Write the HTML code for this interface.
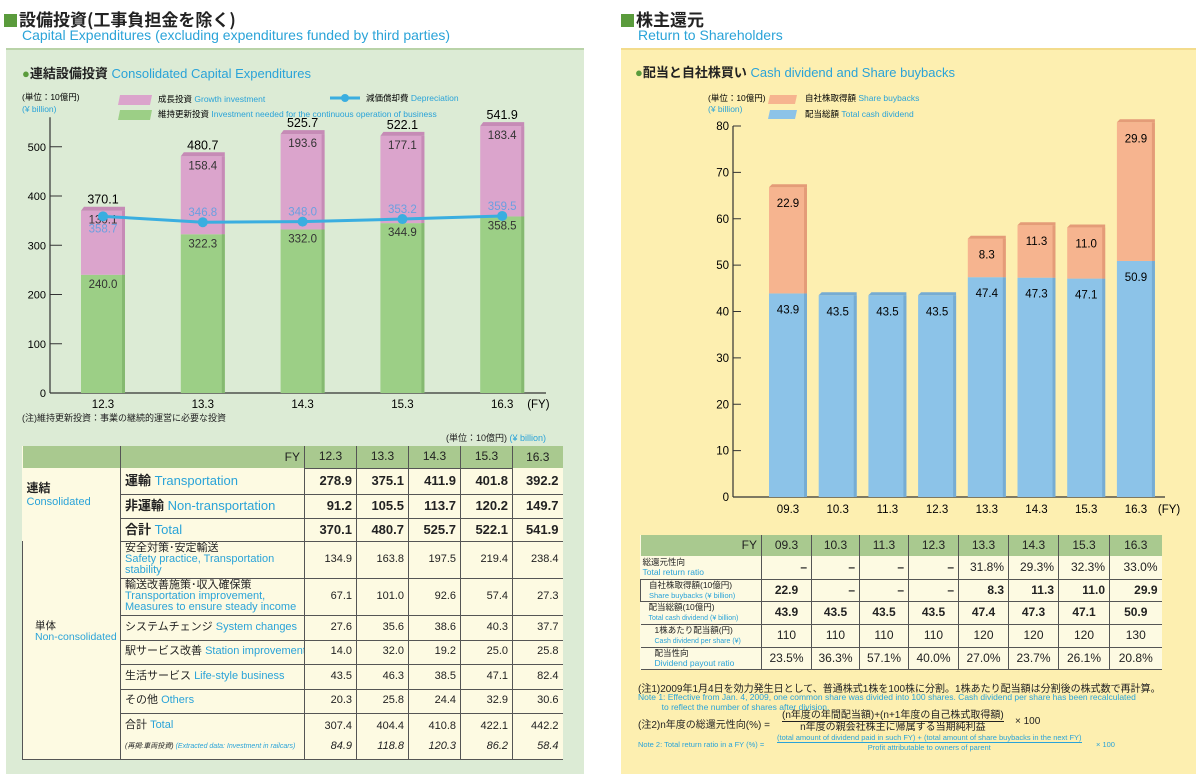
<!DOCTYPE html>
<html><head><meta charset="utf-8">
<style>
body{margin:0;width:1200px;height:778px;background:#fff;position:relative;overflow:hidden;font-family:"Liberation Sans","Noto Sans CJK JP",sans-serif;color:#222}
.abs{position:absolute;white-space:nowrap}
.blue{color:#2aa3d8}
.h1{font-size:17px;font-weight:bold;font-family:"Noto Sans CJK JP",sans-serif}
.sq{display:inline-block;width:13px;height:13px;background:#5a9b3c;margin-right:2px;vertical-align:-1px}
table{border-collapse:collapse;position:absolute;font-size:12px;table-layout:fixed}
td{padding:0 4px;white-space:nowrap;overflow:hidden;line-height:1.05}
</style></head><body>
<!-- LEFT -->
<div class="abs h1" style="left:4px;top:6px"><span class="sq"></span>設備投資(工事負担金を除く)</div>
<div class="abs blue" style="left:22px;top:27px;font-size:14px">Capital Expenditures (excluding expenditures funded by third parties)</div>
<div class="abs" style="left:6px;top:48px;width:578px;height:724px;background:#dcebd5;border-top:2px solid #b9d3a8"></div>
<div class="abs" style="left:22px;top:63px;font-size:13px"><b style="color:#5a9b3c">●</b><b style="font-family:'Noto Sans CJK JP'">連結設備投資</b> <span class="blue">Consolidated Capital Expenditures</span></div>
<svg class="abs" style="left:0;top:0" width="600" height="440" id="lc"></svg>
<div class="abs" style="left:22px;top:411px;font-size:9px">(注)維持更新投資：事業の継続的運営に必要な投資</div>
<div class="abs" style="left:446px;top:431px;font-size:9px">(単位：10億円) <span class="blue">(¥ billion)</span></div>

<table style="left:22px;top:446px;width:540px;background:#fdfae2">
<colgroup><col style="width:98px"><col style="width:184px"><col style="width:52px"><col style="width:52px"><col style="width:52px"><col style="width:52px"><col style="width:50px"></colgroup>
<tr style="height:22px;background:#a9c98f"><td></td><td style="text-align:right;border-left:1px solid #555;border-right:1px solid #555">FY</td><td align="center" style="border-right:1px solid #555">12.3</td><td align="center" style="border-right:1px solid #555">13.3</td><td align="center" style="border-right:1px solid #555">14.3</td><td align="center" style="border-right:1px solid #555">15.3</td><td align="center">16.3</td></tr>
<tbody style="font-size:13px">
<tr style="height:26px;font-weight:bold"><td rowspan="3" style="vertical-align:top;padding-top:14px;font-size:12px">連結<br><span class="blue" style="font-weight:normal;font-size:11px">Consolidated</span></td><td style="border:1px solid #555;border-top:0">運輸 <span class="blue" style="font-weight:normal">Transportation</span></td><td align="right" style="border:1px solid #555">278.9</td><td align="right" style="border:1px solid #555">375.1</td><td align="right" style="border:1px solid #555">411.9</td><td align="right" style="border:1px solid #555">401.8</td><td align="right" style="border-bottom:1px solid #555">392.2</td></tr>
<tr style="height:24px;font-weight:bold"><td style="border:1px solid #555">非運輸 <span class="blue" style="font-weight:normal">Non-transportation</span></td><td align="right" style="border:1px solid #555">91.2</td><td align="right" style="border:1px solid #555">105.5</td><td align="right" style="border:1px solid #555">113.7</td><td align="right" style="border:1px solid #555">120.2</td><td align="right" style="border-bottom:1px solid #555">149.7</td></tr>
<tr style="height:23px;font-weight:bold"><td style="border:1px solid #555">合計 <span class="blue" style="font-weight:normal">Total</span></td><td align="right" style="border:1px solid #555">370.1</td><td align="right" style="border:1px solid #555">480.7</td><td align="right" style="border:1px solid #555">525.7</td><td align="right" style="border:1px solid #555">522.1</td><td align="right" style="border-bottom:1px solid #555">541.9</td></tr>
</tbody>
<tbody style="font-size:11px">
<tr style="height:37px"><td rowspan="7" style="vertical-align:middle;padding-left:12px;border-left:1px solid #555;border-bottom:1px solid #555;font-size:10.5px"><span style="position:relative;top:-18px">単体<br><span class="blue">Non-consolidated</span></span></td><td style="border:1px solid #555;line-height:11px">安全対策･安定輸送<br><span class="blue">Safety practice, Transportation<br>stability</span></td><td align="right" style="border:1px solid #555">134.9</td><td align="right" style="border:1px solid #555">163.8</td><td align="right" style="border:1px solid #555">197.5</td><td align="right" style="border:1px solid #555">219.4</td><td align="right" style="border-bottom:1px solid #555">238.4</td></tr>
<tr style="height:37px"><td style="border:1px solid #555;line-height:11px">輸送改善施策･収入確保策<br><span class="blue">Transportation improvement,<br>Measures to ensure steady income</span></td><td align="right" style="border:1px solid #555">67.1</td><td align="right" style="border:1px solid #555">101.0</td><td align="right" style="border:1px solid #555">92.6</td><td align="right" style="border:1px solid #555">57.4</td><td align="right" style="border-bottom:1px solid #555">27.3</td></tr>
<tr style="height:25px"><td style="border:1px solid #555">システムチェンジ <span class="blue">System changes</span></td><td align="right" style="border:1px solid #555">27.6</td><td align="right" style="border:1px solid #555">35.6</td><td align="right" style="border:1px solid #555">38.6</td><td align="right" style="border:1px solid #555">40.3</td><td align="right" style="border-bottom:1px solid #555">37.7</td></tr>
<tr style="height:24px"><td style="border:1px solid #555">駅サービス改善 <span class="blue">Station improvement</span></td><td align="right" style="border:1px solid #555">14.0</td><td align="right" style="border:1px solid #555">32.0</td><td align="right" style="border:1px solid #555">19.2</td><td align="right" style="border:1px solid #555">25.0</td><td align="right" style="border-bottom:1px solid #555">25.8</td></tr>
<tr style="height:25px"><td style="border:1px solid #555">生活サービス <span class="blue">Life-style business</span></td><td align="right" style="border:1px solid #555">43.5</td><td align="right" style="border:1px solid #555">46.3</td><td align="right" style="border:1px solid #555">38.5</td><td align="right" style="border:1px solid #555">47.1</td><td align="right" style="border-bottom:1px solid #555">82.4</td></tr>
<tr style="height:24px"><td style="border:1px solid #555">その他 <span class="blue">Others</span></td><td align="right" style="border:1px solid #555">20.3</td><td align="right" style="border:1px solid #555">25.8</td><td align="right" style="border:1px solid #555">24.4</td><td align="right" style="border:1px solid #555">32.9</td><td align="right" style="border-bottom:1px solid #555">30.6</td></tr>
<tr style="height:46px"><td style="border:1px solid #555;line-height:20px">合計 <span class="blue">Total</span><br><i style="font-size:7px">(再掲:車両投資) <span class="blue">(Extracted data: Investment in railcars)</span></i></td><td align="right" style="border:1px solid #555;line-height:20px">307.4<br><i>84.9</i></td><td align="right" style="border:1px solid #555;line-height:20px">404.4<br><i>118.8</i></td><td align="right" style="border:1px solid #555;line-height:20px">410.8<br><i>120.3</i></td><td align="right" style="border:1px solid #555;line-height:20px">422.1<br><i>86.2</i></td><td align="right" style="border-bottom:1px solid #555;line-height:20px">442.2<br><i>58.4</i></td></tr>
</tbody></table>

<!-- RIGHT -->
<div class="abs h1" style="left:621px;top:6px"><span class="sq"></span>株主還元</div>
<div class="abs blue" style="left:638px;top:27px;font-size:14px">Return to Shareholders</div>
<div class="abs" style="left:621px;top:48px;width:575px;height:724px;background:#fdefb0;border-top:2px solid #f3dc8c"></div>
<div class="abs" style="left:635px;top:62px;font-size:13px"><b style="color:#5a9b3c">●</b><b style="font-family:'Noto Sans CJK JP'">配当と自社株買い</b> <span class="blue">Cash dividend and Share buybacks</span></div>
<svg class="abs" style="left:610px;top:0" width="590" height="520" id="rc"></svg>

<table style="left:640px;top:535px;width:521px;background:#fdfae2;font-size:12px">
<colgroup><col style="width:121px"><col style="width:50px"><col style="width:48px"><col style="width:49px"><col style="width:50px"><col style="width:50px"><col style="width:50px"><col style="width:51px"><col style="width:52px"></colgroup>
<tr style="height:21px;background:#a9c98f"><td align="right" style="border-right:1px solid #555">FY</td><td align="center" style="border-right:1px solid #555">09.3</td><td align="center" style="border-right:1px solid #555">10.3</td><td align="center" style="border-right:1px solid #555">11.3</td><td align="center" style="border-right:1px solid #555">12.3</td><td align="center" style="border-right:1px solid #555">13.3</td><td align="center" style="border-right:1px solid #555">14.3</td><td align="center" style="border-right:1px solid #555">15.3</td><td align="center">16.3</td></tr>
<tr style="height:23px;border-bottom:1px solid #555"><td style="font-size:8.5px;line-height:10px;border-right:1px solid #555;padding:0 2px">総還元性向<br><span class="blue">Total return ratio</span></td><td align="right" style="border-right:1px solid #555"><b>–</b></td><td align="right" style="border-right:1px solid #555"><b>–</b></td><td align="right" style="border-right:1px solid #555"><b>–</b></td><td align="right" style="border-right:1px solid #555"><b>–</b></td><td align="right" style="border-right:1px solid #555">31.8%</td><td align="right" style="border-right:1px solid #555">29.3%</td><td align="right" style="border-right:1px solid #555">32.3%</td><td align="right">33.0%</td></tr>
<tr style="height:22px;border-bottom:1px solid #555;font-weight:bold"><td style="font-size:8.5px;line-height:10px;border-right:1px solid #555;border-left:1px solid #555;padding:0 0 0 8px;font-weight:normal">自社株取得額(10億円)<br><span class="blue" style="font-size:7.5px">Share buybacks (¥ billion)</span></td><td align="center" style="border-right:1px solid #555">22.9</td><td align="right" style="border-right:1px solid #555">–</td><td align="right" style="border-right:1px solid #555">–</td><td align="right" style="border-right:1px solid #555">–</td><td align="right" style="border-right:1px solid #555">8.3</td><td align="right" style="border-right:1px solid #555">11.3</td><td align="right" style="border-right:1px solid #555">11.0</td><td align="right">29.9</td></tr>
<tr style="height:23px;border-bottom:1px solid #555;font-weight:bold"><td style="font-size:8.5px;line-height:10px;border-right:1px solid #555;font-weight:normal;padding:0 0 0 8px">配当総額(10億円)<br><span class="blue" style="font-size:7px">Total cash dividend (¥ billion)</span></td><td align="center" style="border-right:1px solid #555">43.9</td><td align="center" style="border-right:1px solid #555">43.5</td><td align="center" style="border-right:1px solid #555">43.5</td><td align="center" style="border-right:1px solid #555">43.5</td><td align="center" style="border-right:1px solid #555">47.4</td><td align="center" style="border-right:1px solid #555">47.3</td><td align="center" style="border-right:1px solid #555">47.1</td><td align="center">50.9</td></tr>
<tr style="height:22px;border-bottom:1px solid #555"><td style="font-size:8.5px;line-height:10px;border-right:1px solid #555;padding:0 0 0 14px">1株あたり配当額(円)<br><span class="blue" style="font-size:7px">Cash dividend per share (¥)</span></td><td align="center" style="border-right:1px solid #555">110</td><td align="center" style="border-right:1px solid #555">110</td><td align="center" style="border-right:1px solid #555">110</td><td align="center" style="border-right:1px solid #555">110</td><td align="center" style="border-right:1px solid #555">120</td><td align="center" style="border-right:1px solid #555">120</td><td align="center" style="border-right:1px solid #555">120</td><td align="center">130</td></tr>
<tr style="height:22px;border-bottom:1px solid #555"><td style="font-size:8.5px;line-height:10px;border-right:1px solid #555;padding:0 0 0 14px">配当性向<br><span class="blue">Dividend payout ratio</span></td><td align="center" style="border-right:1px solid #555">23.5%</td><td align="center" style="border-right:1px solid #555">36.3%</td><td align="center" style="border-right:1px solid #555">57.1%</td><td align="center" style="border-right:1px solid #555">40.0%</td><td align="center" style="border-right:1px solid #555">27.0%</td><td align="center" style="border-right:1px solid #555">23.7%</td><td align="center" style="border-right:1px solid #555">26.1%</td><td align="center">20.8%</td></tr>
</table>
<div class="abs" style="left:638px;top:680px;font-size:10px">(注1)2009年1月4日を効力発生日として、普通株式1株を100株に分割。1株あたり配当額は分割後の株式数で再計算。</div>
<div class="abs blue" style="left:638px;top:692px;font-size:8.5px;line-height:10px">Note 1: Effective from Jan. 4, 2009, one common share was divided into 100 shares. Cash dividend per share has been recalculated<br>&nbsp;&nbsp;&nbsp;&nbsp;&nbsp;&nbsp;&nbsp;&nbsp;&nbsp;&nbsp;to reflect the number of shares after division.</div>
<div class="abs" style="left:638px;top:716px;font-size:10px">(注2)n年度の総還元性向(%) = </div>
<div class="abs" style="left:782px;top:710px;font-size:10px;text-align:center;line-height:12px"><span style="border-bottom:1px solid #222">(n年度の年間配当額)+(n+1年度の自己株式取得額)</span><br>n年度の親会社株主に帰属する当期純利益</div>
<div class="abs" style="left:1015px;top:716px;font-size:10px">× 100</div>
<div class="abs blue" style="left:638px;top:740px;font-size:7.5px">Note 2: Total return ratio in a FY (%) =</div>
<div class="abs blue" style="left:777px;top:733px;font-size:7.5px;text-align:center;line-height:10px"><span style="border-bottom:1px solid #2aa3d8">(total amount of dividend paid in such FY) + (total amount of share buybacks in the next FY)</span><br>Profit attributable to owners of parent</div>
<div class="abs blue" style="left:1096px;top:740px;font-size:7.5px">× 100</div>

<script>
const NS="http://www.w3.org/2000/svg";
function mk(svg,tag,at,txt){const e=document.createElementNS(NS,tag);for(const k in at)e.setAttribute(k,at[k]);if(txt!==undefined)e.textContent=txt;svg.appendChild(e);return e;}
// ---------- left chart data
const capexYears=["12.3","13.3","14.3","15.3","16.3"];
const maintenance=[240.0,322.3,332.0,344.9,358.5];
const growth=[130.1,158.4,193.6,177.1,183.4];
const capexTotals=["370.1","480.7","525.7","522.1","541.9"];
const depreciation=[358.7,346.8,348.0,353.2,359.5];
const capexTicks=[0,100,200,300,400,500];
(function(){
const s=document.getElementById('lc');
const y=v=>393-v*0.4925, x=i=>103+i*99.8, bw=44;
mk(s,'line',{x1:50,y1:y(0),x2:546,y2:y(0),stroke:'#333','stroke-width':1.2});
mk(s,'line',{x1:50,y1:y(0),x2:50,y2:y(560),stroke:'#333','stroke-width':1.2});
capexTicks.forEach(t=>{const l=mk(s,'line',{x1:50,y1:y(t),x2:62,y2:y(t),stroke:'#333'});

const tx=mk(s,'text',{x:46,y:y(t)+4,'text-anchor':'end','font-size':11},String(t));
});
mk(s,'text',{x:22,y:100,'font-size':8.5},'(単位：10億円)');
mk(s,'text',{x:22,y:112,'font-size':8.5,fill:'#2aa3d8'},'(¥ billion)');
mk(s,'path',{d:'M120,95 h32 l-2,10 h-32 z',fill:'#dba4cc'});
mk(s,'path',{d:'M120,110 h32 l-2,10 h-32 z',fill:'#9ccf86'});
const t1=mk(s,'text',{x:158,y:102,'font-size':8.5},'成長投資 ');mk(t1,'tspan',{fill:'#2aa3d8'},'Growth investment');
const t2=mk(s,'text',{x:158,y:117,'font-size':8.5},'維持更新投資 ');mk(t2,'tspan',{fill:'#2aa3d8'},'Investment needed for the continuous operation of business');
mk(s,'line',{x1:330,y1:98,x2:360,y2:98,stroke:'#3aaee0','stroke-width':3});
mk(s,'circle',{cx:345,cy:98,r:4,fill:'#3aaee0'});
const t3=mk(s,'text',{x:366,y:101,'font-size':8.5},'減価償却費 ');mk(t3,'tspan',{fill:'#2aa3d8'},'Depreciation');
capexYears.forEach((c,i)=>{
 const cx=x(i),x0=cx-bw/2,gt=y(maintenance[i]),tt=y(maintenance[i]+growth[i]);
 const g=mk(s,'rect',{x:x0,y:gt,width:bw,height:y(0)-gt,fill:'#9ccf86'});
 
 const p=mk(s,'rect',{x:x0,y:tt,width:bw,height:gt-tt,fill:'#dba4cc'});
 
 mk(s,'rect',{x:x0+bw-3,y:tt,width:3,height:gt-tt,fill:'#c68bb6'});
 mk(s,'rect',{x:x0+bw-3,y:gt,width:3,height:y(0)-gt,fill:'#85b970'});
 mk(s,'path',{d:`M${x0},${tt} l3,-4 h${bw-3} l0,4 z`,fill:'#c68bb6'});
 mk(s,'text',{x:cx,y:tt-7,'text-anchor':'middle','font-size':12.5},capexTotals[i]);
 mk(s,'text',{x:cx,y:tt+13,'text-anchor':'middle','font-size':11.5,fill:'#333'},growth[i].toFixed(1));
 mk(s,'text',{x:cx,y:gt+13,'text-anchor':'middle','font-size':11.5,fill:'#333'},maintenance[i].toFixed(1));
 mk(s,'text',{x:cx,y:y(0)+15,'text-anchor':'middle','font-size':11.5},c);
});
mk(s,'text',{x:x(4)+25,y:y(0)+15,'font-size':11.5},'(FY)');
const pts=depreciation.map((v,i)=>x(i)+','+y(v)).join(' ');
const pl=mk(s,'polyline',{points:pts,fill:'none',stroke:'#3aaee0','stroke-width':3});

depreciation.forEach((v,i)=>{
 const c=mk(s,'circle',{cx:x(i),cy:y(v),r:5,fill:'#3aaee0'});
 
 const tt=y(maintenance[i]+growth[i]);
 const below=(y(v)-tt)<30;
 mk(s,'text',{x:x(i),y:below?y(v)+16:y(v)-6,'text-anchor':'middle','font-size':11.5,fill:'#6b9fe0'},v.toFixed(1));
});
})();
// ---------- right chart data
const divYears=["09.3","10.3","11.3","12.3","13.3","14.3","15.3","16.3"];
const dividend=[43.9,43.5,43.5,43.5,47.4,47.3,47.1,50.9];
const buyback=[22.9,0,0,0,8.3,11.3,11.0,29.9];
const divTicks=[0,10,20,30,40,50,60,70,80];
(function(){
const s=document.getElementById('rc');
const y=v=>497-v*4.6375, x=i=>178+i*49.7, bw=38;
mk(s,'line',{x1:123,y1:y(0),x2:555,y2:y(0),stroke:'#333','stroke-width':1.2});
mk(s,'line',{x1:123,y1:y(0),x2:123,y2:y(80),stroke:'#333','stroke-width':1.2});
divTicks.forEach(t=>{const l=mk(s,'line',{x1:123,y1:y(t),x2:131,y2:y(t),stroke:'#333'});

const tx=mk(s,'text',{x:119,y:y(t)+4,'text-anchor':'end','font-size':11.5},String(t));
});
mk(s,'text',{x:98,y:101,'font-size':8.5},'(単位：10億円)');
mk(s,'text',{x:98,y:112,'font-size':8.5,fill:'#2aa3d8'},'(¥ billion)');
mk(s,'path',{d:'M160,95 h27 l-2,9 h-27 z',fill:'#f6b48f'});
mk(s,'path',{d:'M160,110 h27 l-2,9 h-27 z',fill:'#8cc3e8'});
const a=mk(s,'text',{x:195,y:101,'font-size':8.5},'自社株取得額 ');mk(a,'tspan',{fill:'#2aa3d8'},'Share buybacks');
const b=mk(s,'text',{x:195,y:117,'font-size':8.5},'配当総額 ');mk(b,'tspan',{fill:'#2aa3d8'},'Total cash dividend');
divYears.forEach((c,i)=>{
 const cx=x(i),x0=cx-bw/2,dt=y(dividend[i]),tt=y(dividend[i]+buyback[i]);
 const r1=mk(s,'rect',{x:x0,y:dt,width:bw,height:y(0)-dt,fill:'#8cc3e8'});
 
 mk(s,'rect',{x:x0+bw-3,y:dt,width:3,height:y(0)-dt,fill:'#76acd3'});
 if(buyback[i]>0){
  const r2=mk(s,'rect',{x:x0,y:tt,width:bw,height:dt-tt,fill:'#f6b48f'});
  
  mk(s,'rect',{x:x0+bw-3,y:tt,width:3,height:dt-tt,fill:'#e49c78'});
  mk(s,'text',{x:cx,y:tt+20,'text-anchor':'middle','font-size':11.5},buyback[i].toFixed(1));
 }
 mk(s,'path',{d:`M${x0},${tt} l3,-3 h${bw-3} l0,3 z`,fill:buyback[i]>0?'#e49c78':'#76acd3'});
 mk(s,'text',{x:cx,y:dt+20,'text-anchor':'middle','font-size':11.5},dividend[i].toFixed(1));
 mk(s,'text',{x:cx,y:y(0)+16,'text-anchor':'middle','font-size':11.5},c);
});
mk(s,'text',{x:x(7)+22,y:y(0)+16,'font-size':11.5},'(FY)');
})();
</script>
</body></html>
